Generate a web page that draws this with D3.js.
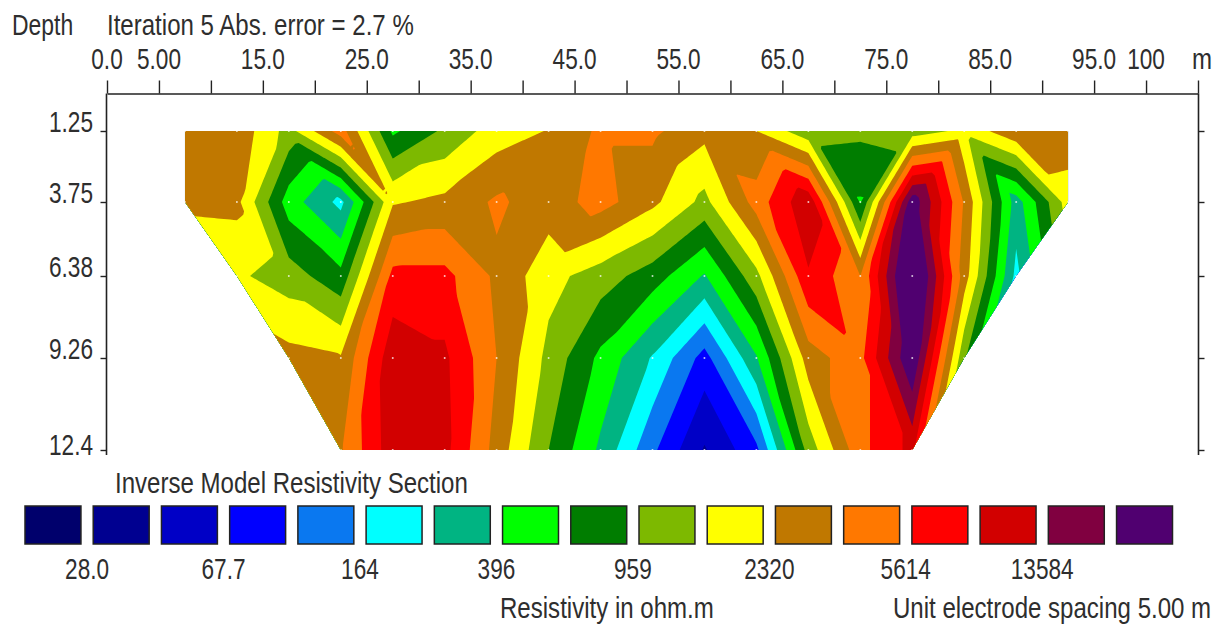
<!DOCTYPE html>
<html>
<head>
<meta charset="utf-8">
<title>Inverse Model Resistivity Section</title>
<script src="https://cdn.jsdelivr.net/npm/d3@7"></script>
<style>
  html, body { margin: 0; padding: 0; background: #fff; overflow: hidden; }
  svg { display: block; }
  text { font-family: "Liberation Sans", Arial, sans-serif; fill: #2e2e2e; }
</style>
</head>
<body>
<script>
'use strict';

//Data ============================================

var xTickValues = d3.range(0, 110, 5);
var xLabelValues = [0, 5, 15, 25, 35, 45, 55, 65, 75, 85, 95, 100];
var xLabelText = ['0.0', '5.00', '15.0', '25.0', '35.0', '45.0', '55.0', '65.0', '75.0', '85.0', '95.0', '100'];

var depths = [1.25, 3.75, 6.38, 9.26, 12.4];
var depthText = ['1.25', '3.75', '6.38', '9.26', '12.4'];

// model block centres, metres along the line
var positions = [7.5, 12.5, 17.5, 22.5, 27.5, 32.5, 37.5, 42.5, 47.5, 52.5, 57.5, 62.5, 67.5, 72.5, 77.5, 82.5, 87.5, 92.5];

// first and last block that exist at each depth (the section narrows going down)
var rowStart = [7.5, 7.5, 12.5, 17.5, 22.5];
var rowEnd = [92.5, 92.5, 87.5, 82.5, 77.5];

// resistivity in ohm.m. One row per depth, one column per position.
// Values outside rowStart..rowEnd are under the mask, they only steer the edge contours.
var depth1 = [2893, 3162, 1250, 4500, 564, 1047, 1860, 2372, 3941, 3941, 2649, 2320, 1095, 1047, 1170, 1666, 3304, 3025];
var depth2 = [2533, 2615, 494, 224, 2219, 2592, 3873, 2893, 4306, 2580, 1307, 4403, 12436, 589, 28800, 3452, 318, 1860];
var depth3 = [1558, 1607, 1196, 703, 6411, 6411, 3304, 1740, 1196, 768, 379, 1307, 8354, 3609, 51130, 2893, 224, 1307];
var depth4 = [3609, 3609, 2707, 2424, 11903, 9536, 3609, 1307, 554, 244, 88.3, 379, 2893, 4919, 32870, 1047, 80.8, 80.8];
var depth5 = [3858, 3858, 3858, 3452, 11388, 9973, 3025, 959, 363, 115, 41.7, 94.3, 1144, 4919, 9973, 318, 318, 318];
var modelRows = [depth1, depth2, depth3, depth4, depth5];

// contour levels, only every second one has a label on the colour bar
var levels = [28.0, 43.5, 67.7, 105, 164, 255, 396, 616, 959, 1491, 2320, 3609, 5614, 8733, 13584, 21130];
var levelText = ['28.0', '67.7', '164', '396', '959', '2320', '5614', '13584'];

var colours = ['#00006c', '#000090', '#0000c6', '#0000ff', '#0a78f0', '#00ffff', '#00b482', '#00ff00',
  '#007d00', '#7db900', '#ffff00', '#c07800', '#ff7800', '#ff0000', '#d20000', '#800040', '#500070'];

//Sizing things.
var width = 1222;
var height = 625;
var textSquash = 0.83; // the original font is tall and narrow
var numberSquash = 0.78; // digits are narrower still
var cellSteps = 16; // fine grid steps per model cell, for the contouring

// cells (column, row) that are split along the other diagonal than the usual rule gives
var flippedCells = ['12,2', '6,0', '8,0', '9,0', '11,0', '14,0', '15,0', '7,1'];

var svg = d3.select('body').append('svg')
  .attr('width', width)
  .attr('height', height);

svg.append('rect').attr('width', width).attr('height', height).attr('fill', '#fff');

//Scales.
var x = d3.scaleLinear().domain([0, 105]).range([107, 1198]);
var y = d3.scaleLinear().domain(depths).range([131, 202, 276, 358, 450]);

//Text helper, squashes horizontally around its anchor.
function label(string, tx, ty, anchor, squash) {
  return svg.append('text')
    .attr('transform', 'translate(' + tx + ',' + ty + ') scale(' + (squash || textSquash) + ',1)')
    .attr('text-anchor', anchor || 'start')
    .style('font-size', '29px')
    .text(string);
}

//Section outline, used as the clip for the contours.
var leftEdge = rowStart.map(function (p, i) { return [x(p), y(depths[i])]; });
var rightEdge = rowEnd.map(function (p, i) { return [x(p), y(depths[i])]; }).reverse();
var outline = leftEdge.concat(rightEdge);

svg.append('clipPath').attr('id', 'section')
  .append('polygon')
  .attr('points', outline.map(function (p) { return p.join(','); }).join(' '));

//Each model cell is two flat triangles on log resistivity, split along
//the diagonal with the smaller jump. That is what gives the straight contours.
var logRows = modelRows.map(function (row) { return row.map(Math.log10); });
var nCols = positions.length;
var nRows = depths.length;
var fineW = (nCols - 1) * cellSteps + 1;
var fineH = (nRows - 1) * cellSteps + 1;

function surface(u, v) {
  var c = Math.min(Math.floor(u), nCols - 2);
  var r = Math.min(Math.floor(v), nRows - 2);
  var fu = u - c;
  var fv = v - r;
  var a = logRows[r][c], b = logRows[r][c + 1];
  var d = logRows[r + 1][c], e = logRows[r + 1][c + 1];

  var backslash = Math.abs(a - e) <= Math.abs(b - d);
  if (flippedCells.indexOf(c + ',' + r) >= 0) backslash = !backslash;

  if (backslash) {
    if (fu >= fv) return a + fu * (b - a) + fv * (e - b);
    return a + fv * (d - a) + fu * (e - d);
  }
  if (fu + fv <= 1) return a + fu * (b - a) + fv * (d - a);
  return e + (1 - fu) * (d - e) + (1 - fv) * (b - e);
}

var fineValues = new Float64Array(fineW * fineH);
for (var j = 0; j < fineH; j++) {
  for (var i = 0; i < fineW; i++) {
    fineValues[j * fineW + i] = surface(i / cellSteps, j / cellSteps);
  }
}

var contours = d3.contours()
  .size([fineW, fineH])
  .thresholds(levels.map(function (l) { return Math.log10(l); }))(fineValues);

// d3.contours puts grid value i at i + 0.5
var gridX = d3.scaleLinear()
  .domain([0.5, fineW - 0.5])
  .range([x(positions[0]), x(positions[nCols - 1])])
  .clamp(true);
var gridY = d3.scaleLinear()
  .domain(depths.map(function (d, k) { return k * cellSteps + 0.5; }))
  .range(depths.map(function (d) { return y(d); }))
  .clamp(true);

var project = d3.geoTransform({
  point: function (px, py) { this.stream.point(gridX(px), gridY(py)); }
});
var path = d3.geoPath(project);

var section = svg.append('g').attr('clip-path', 'url(#section)');

section.append('polygon')
  .attr('points', outline.map(function (p) { return p.join(','); }).join(' '))
  .attr('fill', colours[0]);

section.selectAll('path')
  .data(contours)
  .enter().append('path')
  .attr('d', path)
  .attr('fill', function (d, k) { return colours[k + 1]; });

//White dots at the model block centres.
modelRows.forEach(function (row, r) {
  section.selectAll('circle.r' + r)
    .data(positions.filter(function (p) { return p >= rowStart[r] && p <= rowEnd[r]; }))
    .enter().append('circle')
    .attr('class', 'r' + r)
    .attr('cx', function (p) { return x(p); })
    .attr('cy', y(depths[r]))
    .attr('r', 1)
    .attr('fill', '#fff')
    .attr('opacity', 0.75);
});

//Axes.
var topAxis = d3.axisTop(x).tickValues(xTickValues).tickFormat('').tickSize(13).tickSizeOuter(0);
var leftAxis = d3.axisLeft(y).tickValues(depths).tickFormat('').tickSize(6).tickSizeOuter(0);
var rightAxis = d3.axisRight(y).tickValues(depths).tickFormat('').tickSize(6).tickSizeOuter(0);

var axisColour = '#222';

svg.append('g').attr('transform', 'translate(0,93.5)').call(topAxis);
svg.append('g').attr('transform', 'translate(106.5,0)').call(leftAxis).select('.domain').remove();
svg.append('g').attr('transform', 'translate(1198.5,0)').call(rightAxis).select('.domain').remove();

svg.selectAll('.tick line').attr('stroke', axisColour).attr('stroke-width', 1.4);
svg.selectAll('.domain').attr('stroke', axisColour).attr('stroke-width', 1.6);

svg.append('path')
  .attr('d', d3.line()([[106.5, 455], [106.5, 93.5]]))
  .attr('stroke', axisColour).attr('stroke-width', 1.6).attr('fill', 'none');
svg.append('path')
  .attr('d', d3.line()([[1198.5, 455], [1198.5, 93.5]]))
  .attr('stroke', axisColour).attr('stroke-width', 1.6).attr('fill', 'none');

xLabelValues.forEach(function (v, k) {
  label(xLabelText[k], x(v), 69, 'middle', numberSquash);
});
label('m', 1202, 69, 'middle');

depths.forEach(function (d, k) {
  label(depthText[k], 93, y(d) + (k === 4 ? 5 : 1), 'end', numberSquash);
});

label('Depth', 12, 35, 'start', 0.79);
label('Iteration 5 Abs. error = 2.7 %', 107, 35);

//Colour bar.
label('Inverse Model Resistivity Section', 115, 493);

var bar = d3.scaleBand()
  .domain(d3.range(colours.length))
  .range([25, 1172.5])
  .paddingInner(0.18)
  .paddingOuter(0);

svg.append('g').selectAll('rect')
  .data(colours)
  .enter().append('rect')
  .attr('x', function (d, k) { return bar(k); })
  .attr('y', 506)
  .attr('width', bar.bandwidth())
  .attr('height', 38)
  .attr('fill', function (d) { return d; })
  .attr('stroke', '#222')
  .attr('stroke-width', 1.5);

// labels sit on the gap after swatch 0, 2, 4 ...
levelText.forEach(function (t, k) {
  label(t, bar(k * 2) + bar.step() - (bar.step() - bar.bandwidth()) / 2, 579, 'middle', numberSquash);
});

label('Resistivity in ohm.m', 500, 618);
label('Unit electrode spacing 5.00 m', 893, 618);
</script>
</body>
</html>
